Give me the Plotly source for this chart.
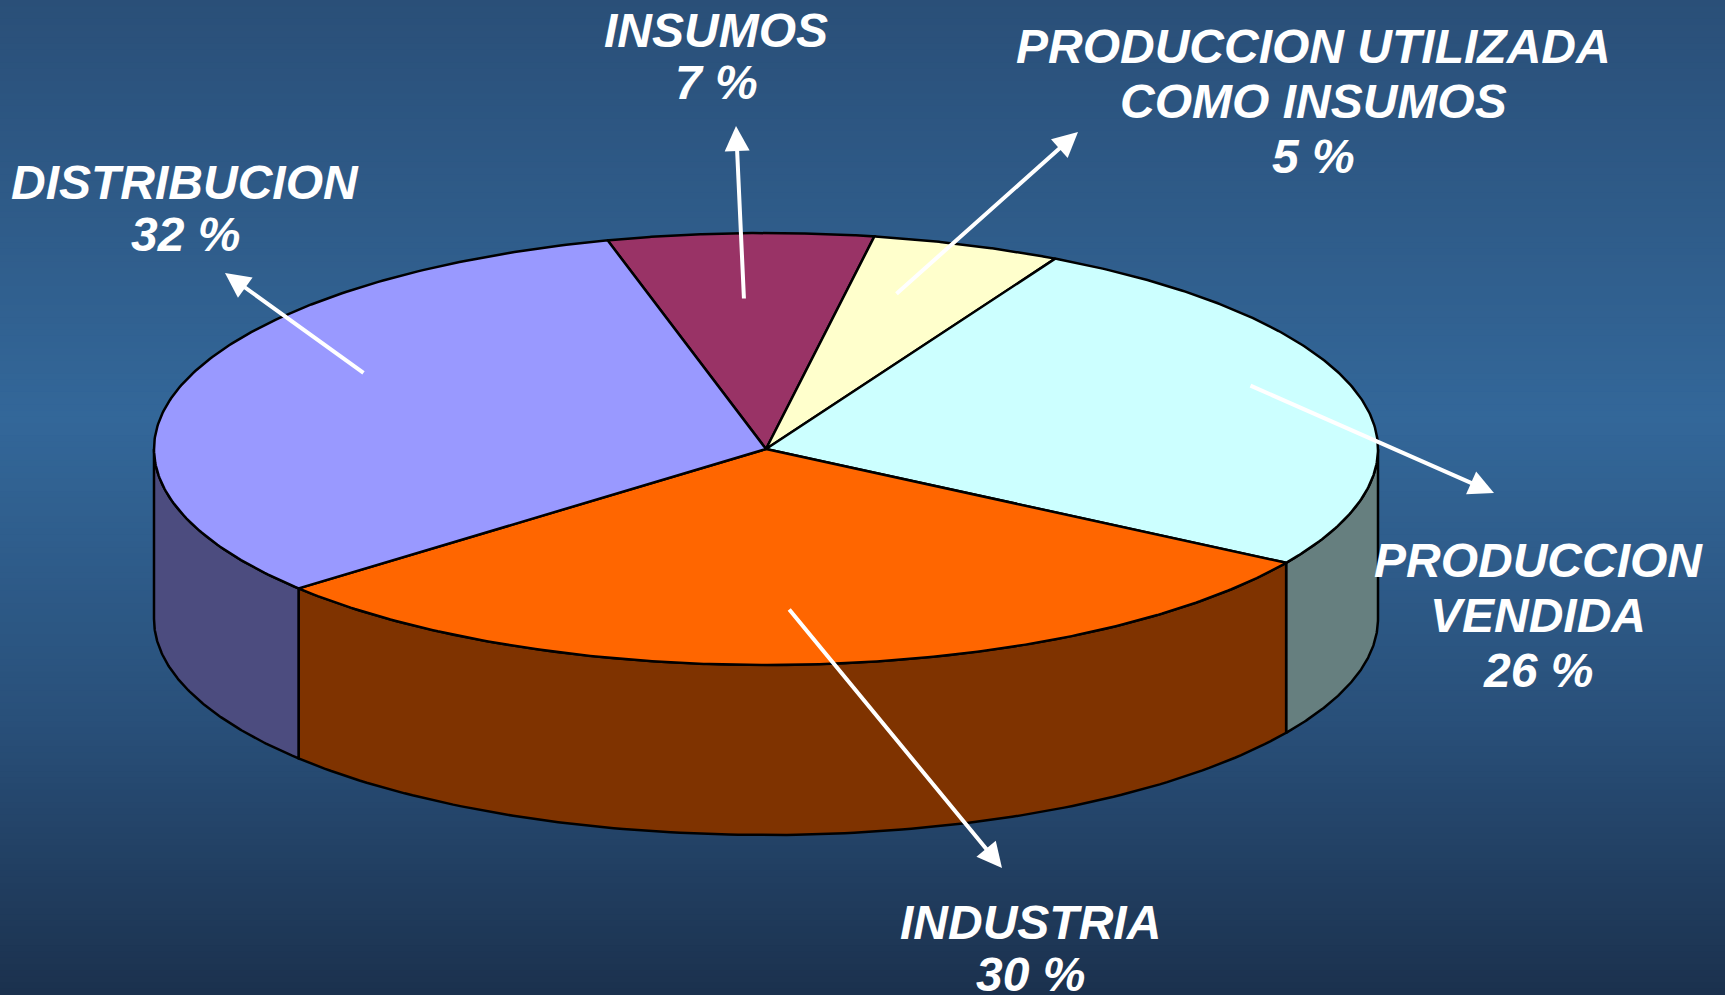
import numpy as np
import plotly.graph_objects as go

# ---------------- data ----------------
categories = ["INSUMOS", "PRODUCCION UTILIZADA<br>COMO INSUMOS", "PRODUCCION<br>VENDIDA",
              "INDUSTRIA", "DISTRIBUCION"]
values = [7, 5, 26, 30, 32]
source_note = "Fuente: INA 2004"

# ---------------- styles / layout ----------------
top_colors = ["#993366", "#FFFFCC", "#CCFFFF", "#FF6600", "#9999FF"]
side_colors = ["#4C1933", "#7F7F66", "#667F7F", "#7F3300", "#4C4C7F"]

W, H = 1725, 995
CX, CY, RX, RY, DEPTH = 766, 449, 612, 216, 170
START_ANGLE = 105.0

# label line-centre positions (first line), line gaps, arrow tail / tip positions
label_pos = [(716, 30), (1313, 46), (1538, 560), (1030, 922), (185, 182)]
line_gaps = [52, 55, 55, 52, 52]
arrow_tail = [(744, 300), (895, 295), (1249, 385), (788, 608), (365, 374)]
arrow_tip = [(736, 126), (1078, 132), (1494, 493), (1002, 868), (225, 273)]

bg_stops = [(0.0, (42, 79, 120)), (0.42, (51, 103, 153)), (0.72, (41, 80, 122)), (1.0, (27, 49, 78))]

fig = go.Figure()

total = float(sum(values))
spans = [360.0 * v / total for v in values]
t_starts = []
acc = START_ANGLE
for s in spans:
    t_starts.append(acc)
    acc -= s


def pt(t_deg, dy=0.0):
    t = np.radians(t_deg)
    return CX + RX * np.cos(t), CY - RY * np.sin(t) + dy


# side walls (only the front half is visible)
for i, (ts, s) in enumerate(zip(t_starts, spans)):
    te = ts - s
    for k in (-2, -1, 0, 1):
        lo = max(te, 360 * k - 180)
        hi = min(ts, 360 * k)
        if lo < hi:
            tt = np.linspace(hi, lo, 120)
            xt, yt = pt(tt)
            xb, yb = pt(tt[::-1], DEPTH)
            xs = np.concatenate([xt, xb, xt[:1]])
            ys = np.concatenate([yt, yb, yt[:1]])
            fig.add_trace(go.Scatter(x=xs, y=ys, mode="lines", fill="toself",
                                     fillcolor=side_colors[i],
                                     line=dict(color="black", width=2.5),
                                     hoverinfo="skip", showlegend=False))

# top faces
for i, (ts, s) in enumerate(zip(t_starts, spans)):
    tt = np.linspace(ts, ts - s, 200)
    xa, ya = pt(tt)
    xs = np.concatenate([[CX], xa, [CX]])
    ys = np.concatenate([[CY], ya, [CY]])
    fig.add_trace(go.Scatter(x=xs, y=ys, mode="lines", fill="toself",
                             fillcolor=top_colors[i],
                             line=dict(color="black", width=2.5),
                             hoverinfo="skip", showlegend=False,
                             name=categories[i].replace("<br>", " ")))

annotations = []
font = dict(family="Liberation Sans, Arial", size=48, color="white",
            weight="bold", style="italic")
for i, (cat, v) in enumerate(zip(categories, values)):
    lines = cat.split("<br>") + [f"{v} %"]
    x0, y0 = label_pos[i]
    for j, ln in enumerate(lines):
        annotations.append(dict(x=x0, y=y0 + j * line_gaps[i], xref="x", yref="y",
                                text=ln, showarrow=False, font=font,
                                xanchor="center", yanchor="middle"))
    (ax, ay), (hx, hy) = arrow_tail[i], arrow_tip[i]
    annotations.append(dict(x=hx, y=hy, ax=ax, ay=ay, xref="x", yref="y",
                            axref="x", ayref="y", text="", showarrow=True,
                            arrowhead=2, arrowsize=1.25, arrowwidth=4,
                            arrowcolor="white", standoff=0, startstandoff=0))

annotations.append(dict(x=58, y=986, xref="x", yref="y", text=source_note,
                        showarrow=False, xanchor="left", yanchor="top",
                        font=dict(family="Liberation Sans, Arial", size=36,
                                  color="white", weight="bold")))

# background gradient made of thin horizontal bands
def bg_color(f):
    for (f0, c0), (f1, c1) in zip(bg_stops[:-1], bg_stops[1:]):
        if f0 <= f <= f1:
            r = (f - f0) / (f1 - f0)
            return "rgb(%d,%d,%d)" % tuple(round(a + (b - a) * r) for a, b in zip(c0, c1))
    return "rgb(%d,%d,%d)" % bg_stops[-1][1]

shapes = []
n_bands = 160
for b in range(n_bands):
    y0 = 1 - b / n_bands
    y1 = 1 - (b + 1) / n_bands
    shapes.append(dict(type="rect", xref="paper", yref="paper", x0=0, x1=1,
                       y0=y1 - 0.002, y1=y0, fillcolor=bg_color((b + 0.5) / n_bands),
                       line=dict(width=0), layer="below"))

fig.update_layout(
    width=W, height=H,
    margin=dict(l=0, r=0, t=0, b=0),
    paper_bgcolor="rgb(40,78,118)",
    plot_bgcolor="rgba(0,0,0,0)",
    xaxis=dict(range=[0, W], visible=False, fixedrange=True),
    yaxis=dict(range=[H, 0], visible=False, fixedrange=True),
    annotations=annotations,
    shapes=shapes,
    showlegend=False,
)

fig.write_html("out.html", config={"displayModeBar": False},
               post_script="document.body.style.margin='0';document.body.style.overflow='hidden';"
                           "document.documentElement.style.background='rgb(27,49,78)';")
